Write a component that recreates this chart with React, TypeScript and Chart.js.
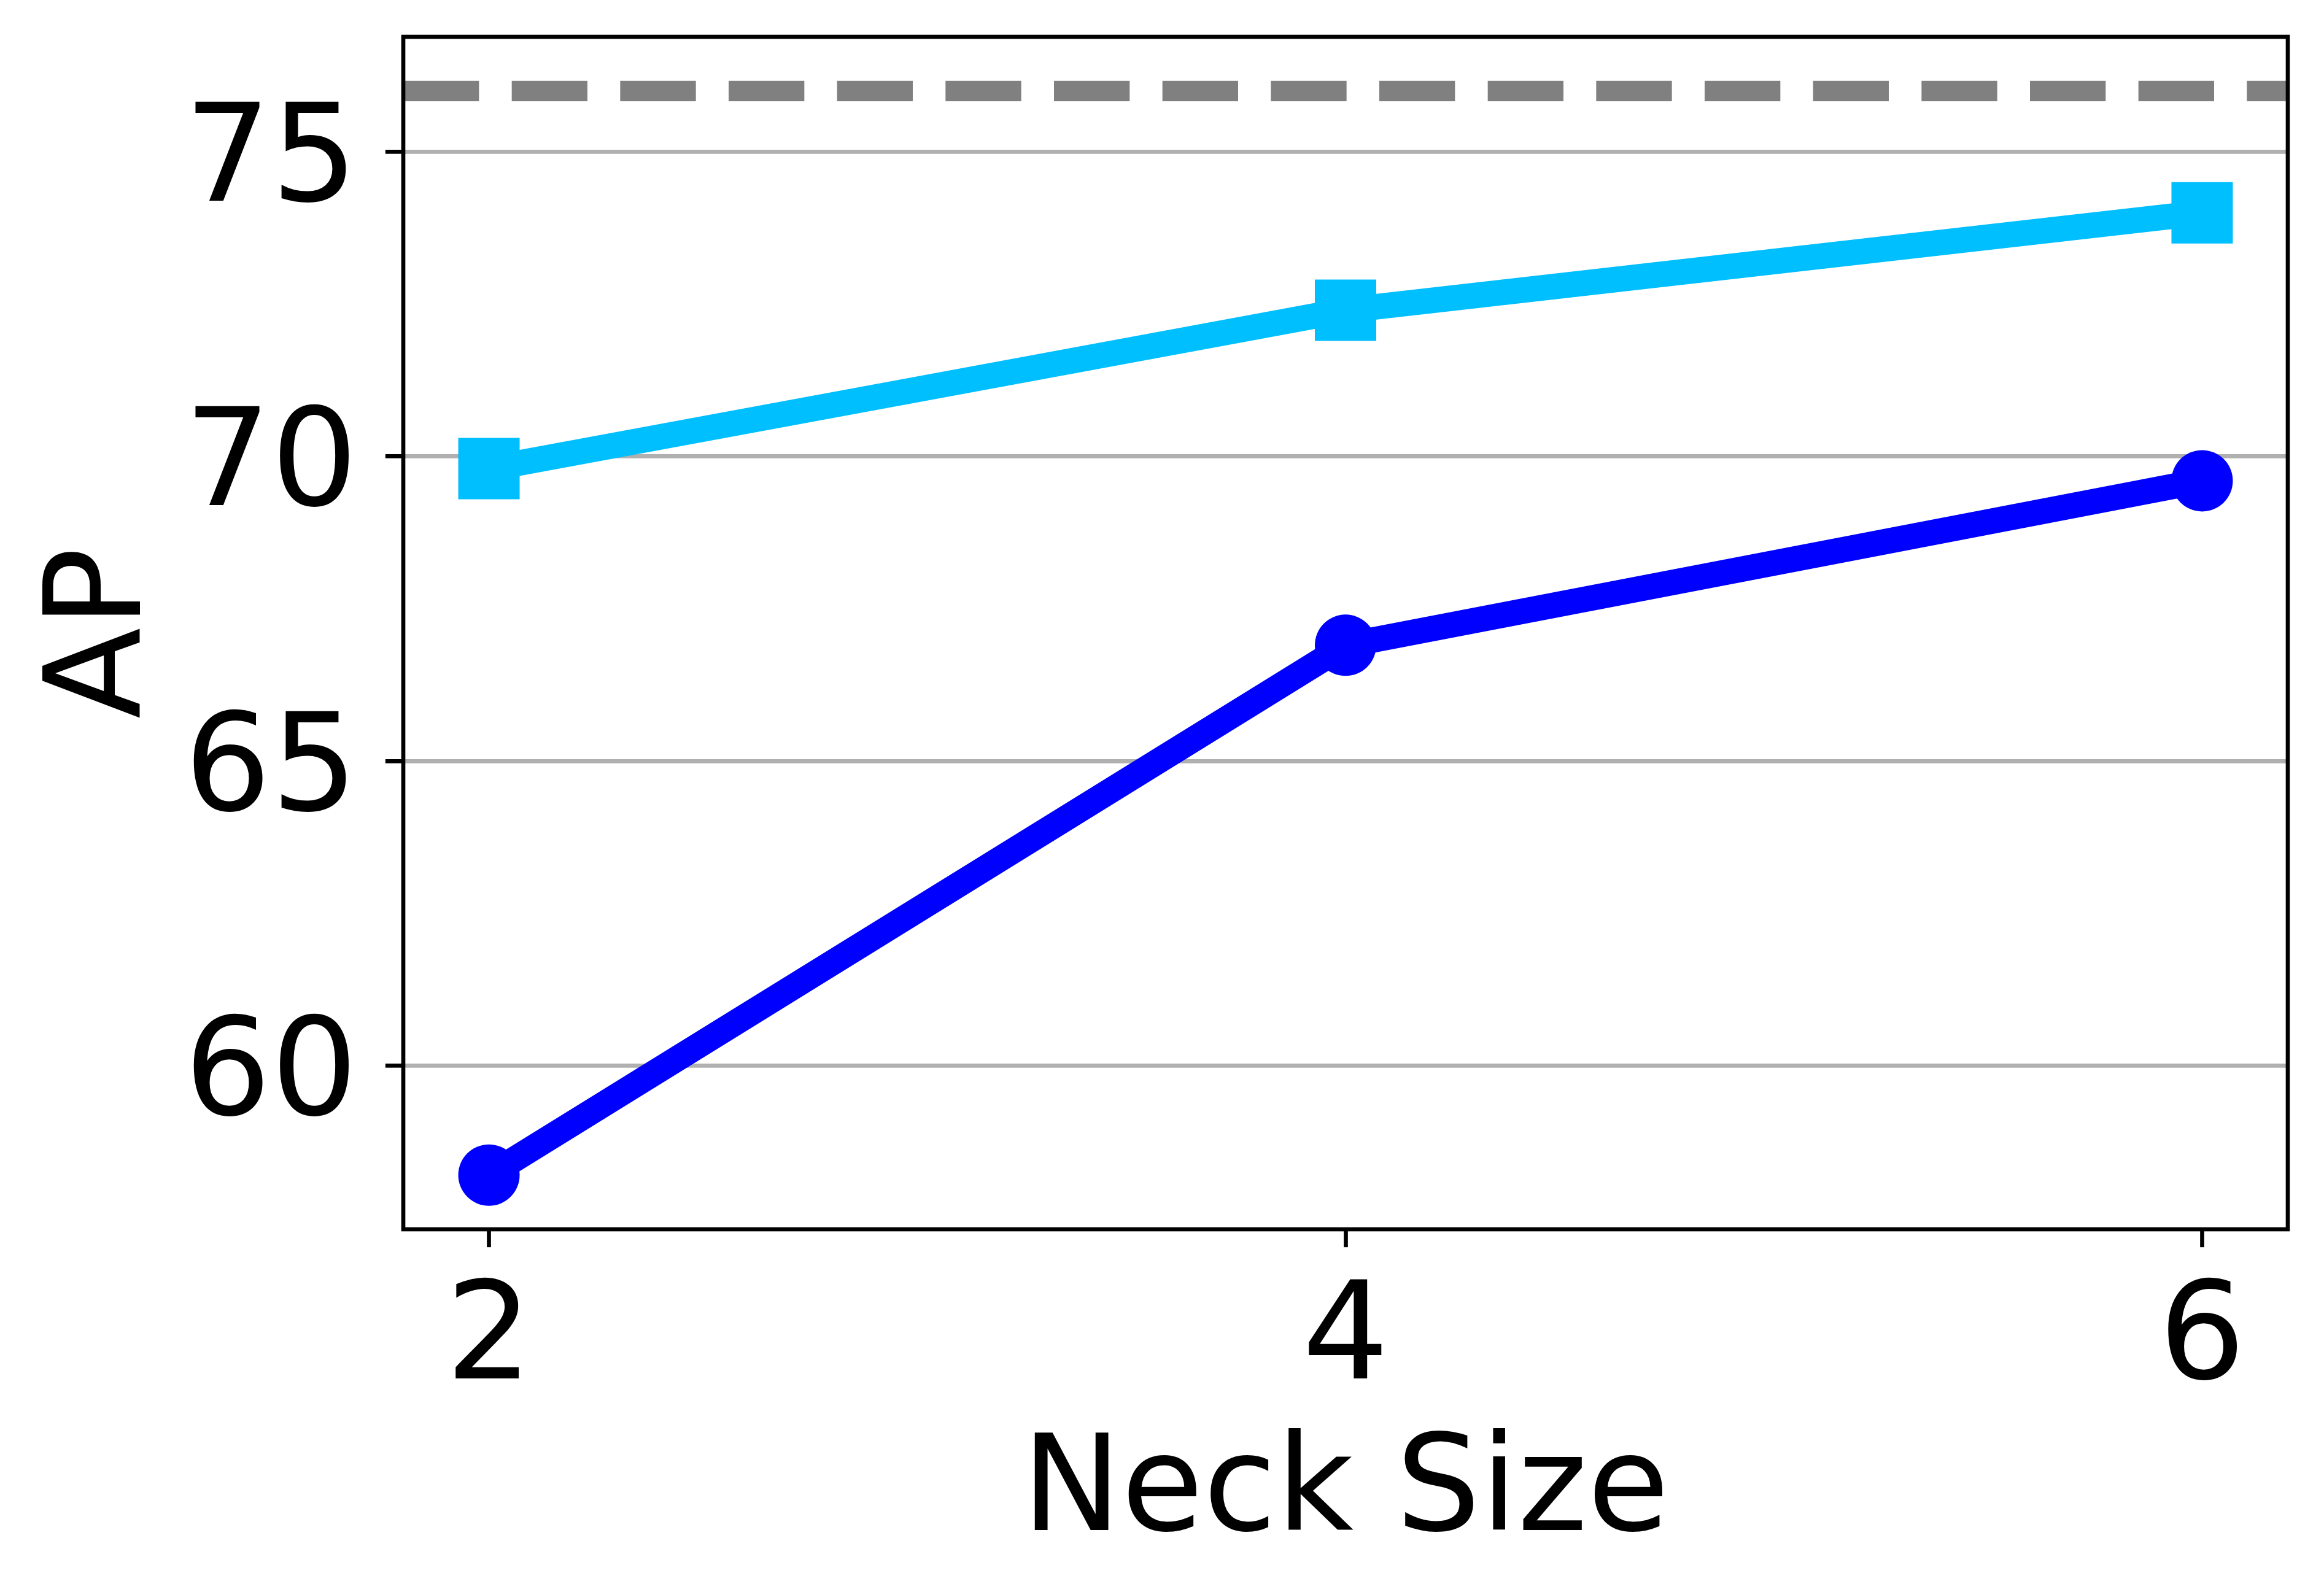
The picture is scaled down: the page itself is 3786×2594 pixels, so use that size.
import React, { useEffect, useRef } from "react";
import { Chart, registerables } from "chart.js";

Chart.register(...registerables);

// ---- data ----
const neckSizes = [2, 4, 6];
const apSquare = [69.8, 72.4, 74.0]; // deep sky blue, square markers
const apCircle = [58.2, 66.9, 69.6]; // blue, circle markers
const referenceAP = 76.0; // grey dashed reference
const xTickValues = [2, 4, 6];
const yTickValues = [60, 65, 70, 75];
const xLimits = [1.8, 6.2];
const yLimits = [57.31, 76.89];
const xTitle = "Neck Size";
const yTitle = "AP";

// ---- layout / style ----
const W = 3786;
const H = 2594;
const FONT = "'DejaVu Sans', sans-serif";
const PLOT_LEFT = 657;
const PLOT_TOP = 60;
const PLOT_RIGHT = 3727;
const PLOT_BOTTOM = 2003;
const LW = 600 / 72; // px per pt

const framePlugin = {
  id: "frame",
  afterDraw(chart: any) {
    const { ctx, chartArea } = chart;
    const { left, top, right, bottom } = chartArea;
    ctx.save();
    ctx.strokeStyle = "#000";
    ctx.lineWidth = 0.8 * LW;
    ctx.strokeRect(left, top, right - left, bottom - top);
    ctx.restore();
  },
};

export default function App() {
  const ref = useRef<HTMLCanvasElement | null>(null);

  useEffect(() => {
    if (!ref.current) return;
    const toPts = (ys: number[]) => neckSizes.map((x, i) => ({ x, y: ys[i] }));
    const chart = new Chart(ref.current, {
      type: "line",
      data: {
        datasets: [
          {
            label: "ref",
            data: xLimits.map((x) => ({ x, y: referenceAP })),
            borderColor: "#808080",
            borderWidth: 4 * LW,
            borderDash: [3.7 * 4 * LW, 1.6 * 4 * LW],
            borderCapStyle: "butt",
            pointRadius: 0,
            fill: false,
            order: 3,
          },
          {
            label: "square",
            data: toPts(apSquare),
            borderColor: "#00BFFF",
            backgroundColor: "#00BFFF",
            borderWidth: 5 * LW,
            borderJoinStyle: "round",
            pointStyle: "rect",
            pointRadius: 50 * Math.SQRT2,
            pointBorderWidth: 0,
            pointBackgroundColor: "#00BFFF",
            fill: false,
            tension: 0,
            order: 1,
          },
          {
            label: "circle",
            data: toPts(apCircle),
            borderColor: "#0000FF",
            backgroundColor: "#0000FF",
            borderWidth: 5 * LW,
            borderJoinStyle: "round",
            pointStyle: "circle",
            pointRadius: 50,
            pointBorderWidth: 0,
            pointBackgroundColor: "#0000FF",
            fill: false,
            tension: 0,
            order: 2,
          },
        ],
      },
      options: {
        animation: false,
        responsive: false,
        maintainAspectRatio: false,
        devicePixelRatio: 1,
        events: [],
        layout: {
          autoPadding: false,
          padding: { left: 0, top: PLOT_TOP, right: W - PLOT_RIGHT, bottom: 0 },
        },
        plugins: {
          legend: { display: false },
          tooltip: { enabled: false },
        },
        scales: {
          x: {
            type: "linear",
            min: xLimits[0],
            max: xLimits[1],
            afterBuildTicks: (s: any) => {
              s.ticks = xTickValues.map((v) => ({ value: v }));
            },
            afterFit: (s: any) => {
              s.height = H - PLOT_BOTTOM;
              s.paddingLeft = 0;
              s.paddingRight = 0;
              s.paddingTop = 0;
              s.paddingBottom = 0;
            },
            ticks: {
              color: "#000",
              font: { family: FONT, size: 222, lineHeight: 1 },
              padding: 45,
              maxRotation: 0,
              minRotation: 0,
              autoSkip: false,
              callback: (v: any) => String(v),
            },
            grid: {
              drawOnChartArea: false,
              drawTicks: true,
              tickColor: "#000",
              tickWidth: 0.8 * LW,
              tickLength: 3.5 * LW,
            },
            border: { display: false },
            title: {
              display: true,
              text: xTitle,
              color: "#000",
              font: { family: FONT, size: 217, lineHeight: 1 },
              padding: { top: 0, bottom: 49 },
            },
          },
          y: {
            type: "linear",
            min: yLimits[0],
            max: yLimits[1],
            afterBuildTicks: (s: any) => {
              s.ticks = yTickValues.map((v) => ({ value: v }));
            },
            afterFit: (s: any) => {
              s.width = PLOT_LEFT;
              s.paddingLeft = 0;
              s.paddingRight = 0;
              s.paddingTop = 0;
              s.paddingBottom = 0;
            },
            ticks: {
              color: "#000",
              font: { family: FONT, size: 222, lineHeight: 1 },
              padding: 45,
              labelOffset: 22,
              callback: (v: any) => String(v),
            },
            grid: {
              color: "#b0b0b0",
              lineWidth: 0.8 * LW,
              drawTicks: true,
              tickColor: "#000",
              tickWidth: 0.8 * LW,
              tickLength: 3.5 * LW,
            },
            border: { display: false },
            title: {
              display: true,
              text: yTitle,
              color: "#000",
              font: { family: FONT, size: 217, lineHeight: 1 },
              padding: { top: 63, bottom: 0 },
            },
          },
        },
      },
      plugins: [framePlugin],
    } as any);
    return () => chart.destroy();
  }, []);

  return (
    <div style={{ position: "absolute", left: 0, top: 0, width: W, height: H, background: "#fff" }}>
      <canvas ref={ref} width={W} height={H} style={{ display: "block", width: W, height: H }} />
    </div>
  );
}
